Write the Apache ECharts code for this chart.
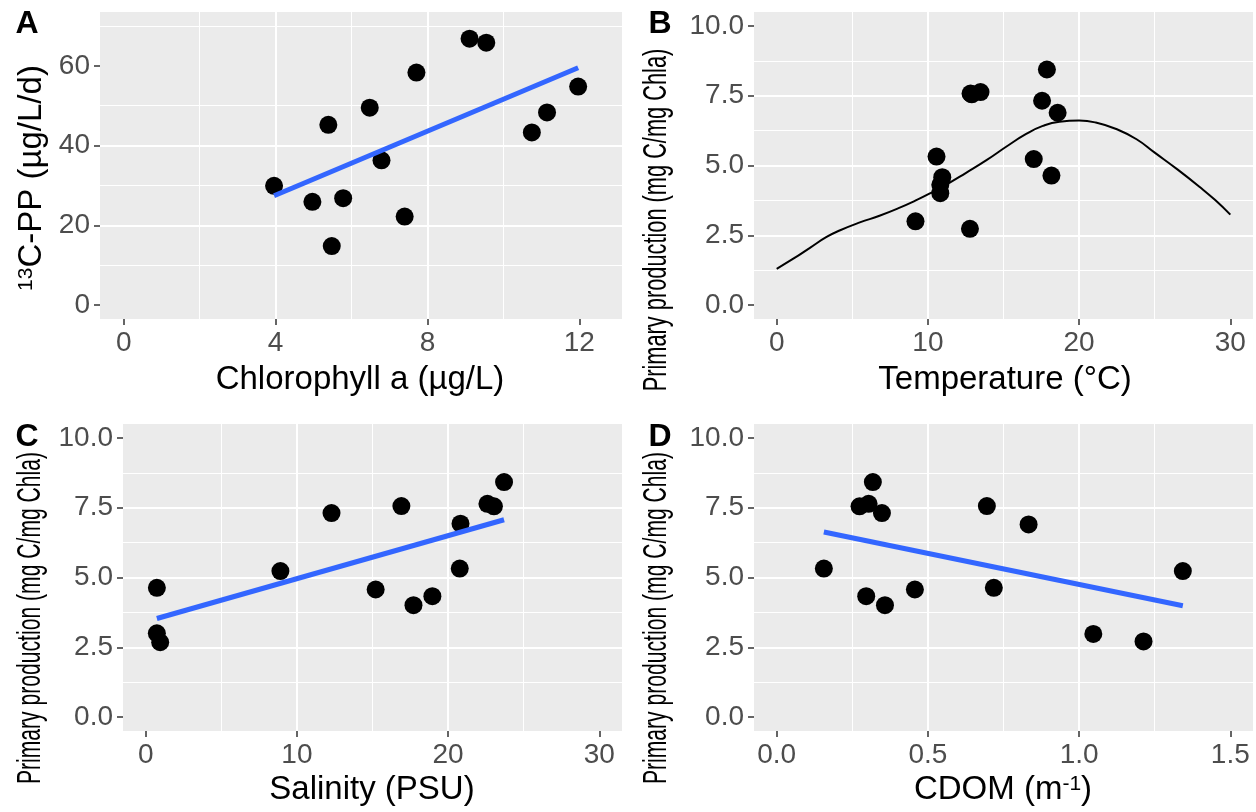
<!DOCTYPE html>
<html>
<head>
<meta charset="utf-8">
<title>Primary production panels</title>
<script src="https://cdn.jsdelivr.net/npm/echarts@6/dist/echarts.min.js"></script>
<style>
  html, body { margin: 0; padding: 0; background: #fff; }
  #main { width: 1256px; height: 812px; }
</style>
</head>
<body>
<div id="main"></div>
<script>
// A: chlorophyll a vs 13C-PP
var chlA = [3.96, 4.97, 5.39, 5.48, 5.78, 6.48, 6.79, 7.40, 7.71, 9.11, 9.55, 10.75, 11.15, 11.97];
var ppA  = [29.9, 25.9, 45.2, 14.8, 26.8, 49.5, 36.3, 22.2, 58.3, 66.8, 65.8, 43.3, 48.3, 54.8];
var fitA = [[3.96, 27.4], [11.97, 59.5]];

// B: temperature vs primary production, with the curve
var tempB = [9.18, 10.57, 10.95, 10.82, 10.82, 12.78, 12.82, 12.90, 13.48, 17.0, 17.55, 17.87, 18.17, 18.58];
var ppB   = [3.00, 5.32, 4.58, 4.31, 4.01, 2.73, 7.58, 7.55, 7.63, 5.23, 7.32, 8.44, 4.64, 6.89];
var curveX = [0, 1.1, 2.2, 3.3, 4.2, 5.5, 6.8, 8.1, 9.2, 10.1, 11.2, 12.5, 13.9, 15.2, 16.5, 17.6, 18.7, 20.0, 21.1, 22.5, 23.8, 25.0, 26.5, 28.0, 29.0, 30.0];
var curveY = [1.30, 1.66, 2.05, 2.44, 2.68, 2.96, 3.20, 3.48, 3.75, 3.99, 4.31, 4.73, 5.20, 5.68, 6.13, 6.42, 6.57, 6.61, 6.54, 6.30, 5.94, 5.46, 4.86, 4.22, 3.76, 3.24];

// C: salinity
var salC = [0.74, 0.74, 0.96, 8.91, 12.29, 15.21, 16.91, 17.71, 18.96, 20.77, 20.82, 22.6, 23.03, 23.7];
var ppC  = [4.63, 3.00, 2.68, 5.23, 7.31, 4.57, 7.56, 4.01, 4.33, 5.32, 6.93, 7.64, 7.55, 8.42];
var fitC = [[0.74, 3.53], [23.7, 7.07]];

// D: CDOM
var cdomD = [0.156, 0.274, 0.304, 0.318, 0.348, 0.296, 0.358, 0.457, 0.695, 0.718, 0.833, 1.047, 1.213, 1.343];
var ppD   = [5.32, 7.55, 7.64, 8.42, 7.31, 4.33, 4.01, 4.57, 7.56, 4.63, 6.90, 2.98, 2.71, 5.23];
var fitD  = [[0.156, 6.63], [1.343, 3.99]];

// tick labels
var ticksAx = [0, 4, 8, 12];
var ticksAy = [0, 20, 40, 60];
var ticksTemp = [0, 10, 20, 30];
var ticksSal = [0, 10, 20, 30];
var ticksCdom = [0, 0.5, 1, 1.5];
var ticksPP = [0, 2.5, 5, 7.5, 10];

var FONT = "'Liberation Sans', Arial, sans-serif";

function zip(xs, ys) {
  var out = [];
  for (var i = 0; i < xs.length; i++) out.push([xs[i], ys[i]]);
  return out;
}

function valueAxis(grid, min, max, step, ticks, digits) {
  return {
    type: 'value', gridIndex: grid, min: min, max: max,
    minInterval: step, maxInterval: step, splitNumber: 4,
    axisLine: { show: false, onZero: false },
    axisTick: { show: true, length: 6, customValues: ticks, lineStyle: { color: '#333333', width: 1.5 } },
    axisLabel: {
      customValues: ticks, color: '#4D4D4D', fontSize: 28, fontFamily: FONT, margin: 10,
      formatter: function (v) { return v.toFixed(digits); }
    },
    splitLine: { show: true, showMinLine: false, showMaxLine: false, lineStyle: { color: '#FFFFFF', width: 2 } },
    minorTick: { show: false, splitNumber: 2 },
    minorSplitLine: { show: true, lineStyle: { color: '#FFFFFF', width: 1 } }
  };
}

function label(txt, x, y, opts) {
  opts = opts || {};
  return {
    type: 'text', x: x, y: y,
    rotation: opts.rot ? Math.PI / 2 : 0,
    scaleX: opts.sx || 1,
    style: {
      text: txt, fill: '#000000',
      fontSize: opts.size || 33, fontFamily: FONT, fontWeight: opts.bold ? 'bold' : 'normal',
      align: 'center', verticalAlign: 'middle',
      textAlign: 'center', textVerticalAlign: 'middle',
      rich: { sup: { fontSize: 21, fontFamily: FONT, verticalAlign: 'top', fill: '#000000' } }
    }
  };
}

function scatter(i, xs, ys) {
  return { type: 'scatter', xAxisIndex: i, yAxisIndex: i, data: zip(xs, ys), symbolSize: 18,
    itemStyle: { color: '#000000', opacity: 1 }, z: 3 };
}

function fit(i, pts, color, width, smooth) {
  return { type: 'line', xAxisIndex: i, yAxisIndex: i, data: pts, showSymbol: false, smooth: smooth || false,
    lineStyle: { color: color, width: width }, z: 4 };
}

var chart = echarts.init(document.getElementById('main'));
chart.setOption({
  animation: false,
  backgroundColor: '#FFFFFF',
  grid: [
    { left: 100, top: 12, width: 522, height: 307, show: true, backgroundColor: '#EBEBEB', borderWidth: 0, outerBoundsMode: 'none' },
    { left: 754, top: 12, width: 499, height: 307, show: true, backgroundColor: '#EBEBEB', borderWidth: 0, outerBoundsMode: 'none' },
    { left: 123, top: 424, width: 499, height: 307, show: true, backgroundColor: '#EBEBEB', borderWidth: 0, outerBoundsMode: 'none' },
    { left: 754, top: 424, width: 499, height: 307, show: true, backgroundColor: '#EBEBEB', borderWidth: 0, outerBoundsMode: 'none' }
  ],
  xAxis: [
    valueAxis(0, -0.625, 13.125, 4, ticksAx, 0),
    valueAxis(1, -1.5, 31.5, 10, ticksTemp, 0),
    valueAxis(2, -1.5, 31.5, 10, ticksSal, 0),
    valueAxis(3, -0.075, 1.575, 0.5, ticksCdom, 1)
  ],
  yAxis: [
    valueAxis(0, -3.5, 73.5, 20, ticksAy, 0),
    valueAxis(1, -0.5, 10.5, 2.5, ticksPP, 1),
    valueAxis(2, -0.5, 10.5, 2.5, ticksPP, 1),
    valueAxis(3, -0.5, 10.5, 2.5, ticksPP, 1)
  ],
  series: [
    scatter(0, chlA, ppA),
    fit(0, fitA, '#3366FF', 5),
    scatter(1, tempB, ppB),
    fit(1, zip(curveX, curveY), '#000000', 2, 0.5),
    scatter(2, salC, ppC),
    fit(2, fitC, '#3366FF', 5),
    scatter(3, cdomD, ppD),
    fit(3, fitD, '#3366FF', 5)
  ],
  graphic: [
    label('A', 27, 24, { bold: true, size: 32 }),
    label('B', 660, 24, { bold: true, size: 32 }),
    label('C', 27, 437, { bold: true, size: 32 }),
    label('D', 660, 437, { bold: true, size: 32 }),
    label('Chlorophyll a (µg/L)', 360, 380),
    label('Temperature (°C)', 1005, 380),
    label('Salinity (PSU)', 372, 790),
    label('CDOM (m{sup|-1})', 1003, 790),
    label('{sup|13}C-PP (µg/L/d)', 32, 178, { rot: true }),
    label('Primary production (mg C/mg Chla)', 657, 220, { rot: true, sx: 0.66 }),
    label('Primary production (mg C/mg Chla)', 31, 618, { rot: true, sx: 0.64 }),
    label('Primary production (mg C/mg Chla)', 657, 618, { rot: true, sx: 0.64 })
  ]
});
</script>
</body>
</html>
